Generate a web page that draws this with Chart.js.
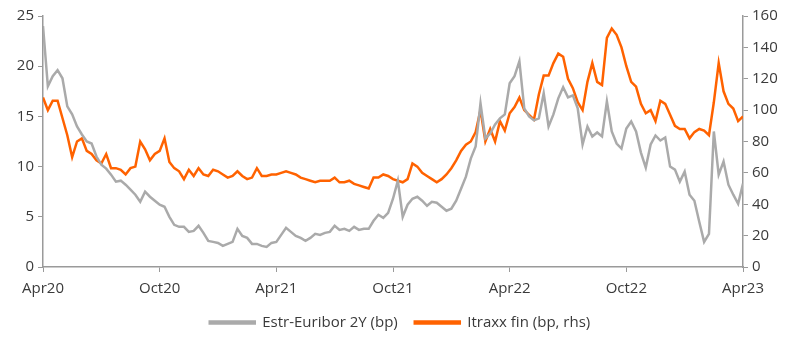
<!DOCTYPE html>
<html>
<head>
<meta charset="utf-8">
<script src="https://cdn.jsdelivr.net/npm/chart.js@4"></script>
<style>
  html, body { margin: 0; padding: 0; background: #fff; }
  #wrap { width: 800px; height: 355px; }
</style>
</head>
<body>
<div id="wrap"><canvas id="myChart" width="800" height="355"></canvas></div>
<script>
// months after Apr20, one point every quarter month
const stepMonths = 0.25;
const tickLabels = ["Apr20", "Oct20", "Apr21", "Oct21", "Apr22", "Oct22", "Apr23"];

// Estr-Euribor 2Y (bp), left axis
const estrEuribor = [
  24.0, 18.0, 19.0, 19.6, 18.8, 16.0, 15.2, 14.0, 13.2, 12.5, 12.3, 11.0,
  10.2, 9.8, 9.2, 8.5, 8.6, 8.2, 7.7, 7.2, 6.5, 7.5, 7.0, 6.6,
  6.2, 6.0, 5.0, 4.2, 4.0, 4.0, 3.5, 3.6, 4.1, 3.4, 2.6, 2.5,
  2.4, 2.1, 2.3, 2.5, 3.8, 3.1, 2.9, 2.3, 2.3, 2.1, 2.0, 2.4,
  2.5, 3.2, 3.9, 3.5, 3.1, 2.9, 2.6, 2.9, 3.3, 3.2, 3.4, 3.5,
  4.1, 3.7, 3.8, 3.6, 4.0, 3.7, 3.8, 3.8, 4.6, 5.2, 4.9, 5.4,
  6.8, 8.6, 5.0, 6.2, 6.8, 7.0, 6.6, 6.1, 6.5, 6.4, 6.0, 5.6,
  5.8, 6.6, 7.8, 9.0, 10.8, 12.0, 16.3, 12.8, 13.3, 14.2, 14.8, 15.2,
  18.3, 19.0, 20.5, 15.8, 15.0, 14.6, 14.8, 17.3, 14.0, 15.2, 16.8, 17.9,
  16.9, 17.1, 15.8, 12.2, 14.0, 13.0, 13.4, 13.0, 16.5, 13.5, 12.3, 11.8,
  13.8, 14.5, 13.5, 11.4, 9.9, 12.2, 13.1, 12.6, 12.9, 10.0, 9.7, 8.5,
  9.5, 7.2, 6.6, 4.5, 2.5, 3.3, 13.5, 9.2, 10.5, 8.2, 7.2, 6.3,
  8.3
];

// Itraxx fin (bp), right axis
const itraxxFin = [
  108, 100, 106, 106, 95, 84, 70, 80, 82, 74, 72, 68,
  66, 72, 63, 63, 62, 59, 63, 64, 80, 75, 68, 72,
  74, 82, 67, 63, 61, 56, 62, 58, 63, 59, 58, 62,
  61, 59, 57, 58, 61, 58, 56, 57, 63, 58, 58, 59,
  59, 60, 61, 60, 59, 57, 56, 55, 54, 55, 55, 55,
  57, 54, 54, 55, 53, 52, 51, 50, 57, 57, 59, 58,
  56, 55, 54, 56, 66, 64, 60, 58, 56, 54, 56, 59,
  63, 68, 74, 78, 80, 86, 100, 80, 88, 80, 93, 87,
  98, 102, 108, 100, 97, 94, 110, 122, 122, 130, 136, 134,
  120, 114, 105, 100, 118, 130, 118, 116, 146, 152, 148, 140,
  128, 118, 115, 104, 98, 100, 93, 106, 104, 97, 90, 88,
  88, 82, 86, 88, 87, 84, 105, 130, 112, 104, 101, 93,
  96
];

const months = estrEuribor.map((v, i) => i * stepMonths);
const toPoints = (arr) => arr.map((v, i) => ({ x: months[i], y: v }));

const axisColor = "#9a9a9a";
const textColor = "#3a3a3a";
const fontFamily = "'Open Sans', 'Noto Sans', sans-serif";

const data = {
  datasets: [
    {
      label: "Estr-Euribor 2Y (bp)",
      data: toPoints(estrEuribor),
      borderColor: "#aaaaaa",
      backgroundColor: "#aaaaaa",
      borderWidth: 2.5,
      pointRadius: 0,
      tension: 0,
      yAxisID: "y"
    },
    {
      label: "Itraxx fin (bp, rhs)",
      data: toPoints(itraxxFin),
      borderColor: "#ff6200",
      backgroundColor: "#ff6200",
      borderWidth: 2.5,
      pointRadius: 0,
      tension: 0,
      yAxisID: "y1"
    }
  ]
};

const config = {
  type: "line",
  data,
  options: {
    responsive: false,
    animation: false,
    layout: { padding: { top: 16, left: 0, right: 0, bottom: 15 } },
    plugins: {
      legend: {
        position: "bottom",
        labels: {
          color: textColor,
          font: { family: fontFamily, size: 15 },
          boxWidth: 45,
          boxHeight: 2,
          padding: 17
        }
      },
      tooltip: { enabled: false }
    },
    scales: {
      x: {
        type: "linear",
        min: 0,
        max: 36,
        grid: { display: true, drawOnChartArea: false, drawTicks: true, tickLength: 5, color: axisColor },
        border: { color: axisColor, width: 1.5 },
        ticks: {
          stepSize: 6,
          color: textColor,
          font: { family: fontFamily, size: 15 },
          padding: 8,
          maxRotation: 0,
          callback: (v) => tickLabels[v / 6]
        },
        afterFit: (s) => { s.height = 31; }
      },
      y: {
        position: "left",
        min: 0,
        max: 25,
        grid: { display: true, drawOnChartArea: false, drawTicks: true, tickLength: 5, color: axisColor },
        border: { color: axisColor, width: 1.5 },
        ticks: { stepSize: 5, color: textColor, font: { family: fontFamily, size: 15 }, padding: 4 },
        afterFit: (s) => { s.width = 43; }
      },
      y1: {
        position: "right",
        min: 0,
        max: 160,
        grid: { display: true, drawOnChartArea: false, drawTicks: true, tickLength: 5, color: axisColor },
        border: { color: axisColor, width: 1.5 },
        ticks: { stepSize: 20, color: textColor, font: { family: fontFamily, size: 15 }, padding: 4 },
        afterFit: (s) => { s.width = 57; }
      }
    }
  }
};

new Chart(document.getElementById("myChart"), config);
</script>
</body>
</html>
